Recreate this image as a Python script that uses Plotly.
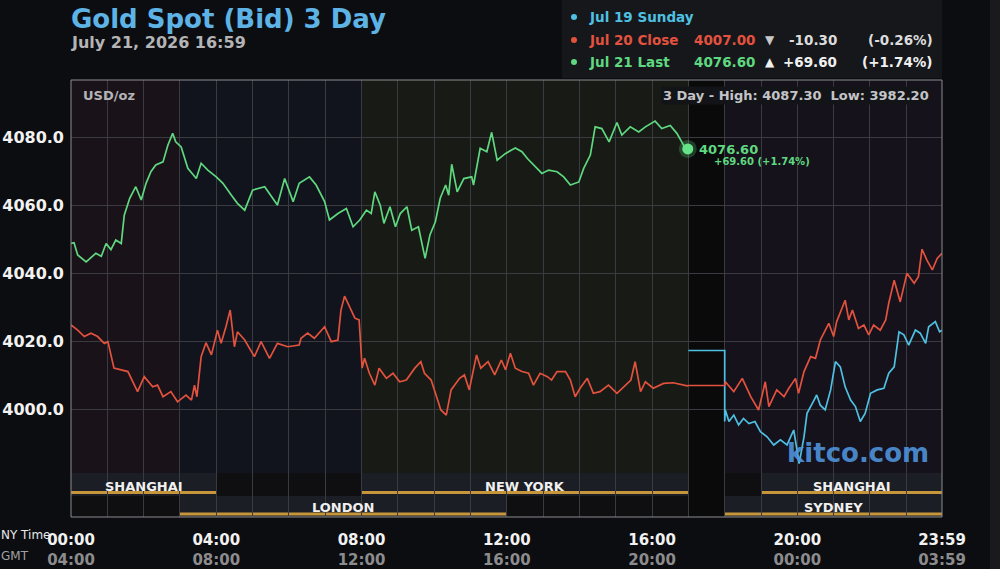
import plotly.graph_objects as go

# ---------------- data ----------------
green_t = ["00:00","00:05","00:11","00:25","00:41","00:50","00:58","01:06","01:14","01:23","01:28","01:37",
           "01:47","01:56","02:04","02:12","02:20","02:32","02:40","02:48","02:53","03:02","03:13","03:27",
           "03:35","03:46","04:00","04:11","04:25","04:35","04:47","05:00","05:20","05:31","05:41","05:53",
           "06:07","06:17","06:34","06:45","06:59","07:07","07:21","07:35","07:46","07:57","08:08","08:16",
           "08:22","08:31","08:37","08:47","08:56","09:04","09:15","09:23","09:34","09:45","09:53","10:02",
           "10:10","10:19","10:24","10:29","10:38","10:49","11:02","11:05","11:16","11:27","11:35","11:44",
           "11:58","12:14","12:25","12:34","12:47","12:58","13:09","13:23","13:34","13:45","13:59","14:07",
           "14:18","14:26","14:37","14:49","15:02","15:10","15:24","15:38","15:49","16:05","16:16","16:30",
           "16:41","16:55","16:59"]
green_v = [4048.8,4049.0,4045.4,4043.4,4045.9,4045.0,4048.8,4047.0,4049.8,4048.8,4057.1,4062.1,
           4065.5,4061.6,4066.5,4069.9,4071.9,4072.8,4077.7,4081.2,4078.7,4077.2,4070.9,4067.9,
           4072.4,4070.4,4068.4,4066.5,4063.0,4060.6,4058.6,4064.5,4065.5,4062.5,4060.1,4067.9,
           4061.1,4066.5,4068.4,4066.0,4061.1,4055.7,4057.6,4059.1,4053.7,4055.7,4058.6,4057.6,
           4064.0,4060.0,4054.7,4059.6,4053.7,4057.6,4059.6,4052.7,4053.7,4044.4,4051.3,4055.2,
           4062.1,4066.0,4063.0,4072.1,4064.0,4067.9,4068.4,4066.0,4076.8,4075.8,4081.5,4073.3,
           4075.3,4076.9,4075.8,4073.8,4071.4,4069.4,4070.4,4069.9,4068.4,4066.0,4066.9,4070.9,
           4074.8,4083.1,4082.6,4078.7,4084.4,4080.7,4083.1,4081.6,4083.1,4084.8,4082.6,4083.5,
           4081.2,4076.8,4076.6]

red_t = ["00:00","00:11","00:22","00:33","00:44","00:55","01:01","01:11","01:23","01:34","01:50","02:01",
         "02:15","02:23","02:32","02:45","02:56","03:10","03:19","03:24","03:28","03:35","03:43","03:52",
         "04:02","04:08","04:16","04:23","04:30","04:35","04:47","05:03","05:14","05:28","05:41","05:58",
         "06:17","06:20","06:31","06:42","06:59","07:10","07:21","07:26","07:32","07:40","07:49","07:56",
         "08:01","08:05","08:13","08:22","08:29","08:41","08:52","09:03","09:14","09:28","09:38","09:44",
         "09:55","10:04","10:11","10:20","10:28","10:42","10:50","10:58","11:10","11:17","11:29","11:40",
         "11:51","11:58","12:06","12:14","12:25","12:36","12:44","12:55","13:07","13:14","13:23","13:37",
         "13:45","13:53","14:01","14:13","14:23","14:34","14:48","15:02","15:19","15:25","15:32","15:41",
         "15:49","16:02","16:19","16:35","16:58","17:00","18:00","18:01","18:15","18:29","18:43","18:56",
         "19:07","19:13","19:26","19:38","19:46","19:57","20:02","20:11","20:22","20:30","20:38","20:52",
         "21:00","21:05","21:19","21:25","21:31","21:41","21:50","21:58","22:06","22:17","22:26","22:31",
         "22:40","22:50","23:01","23:13","23:20","23:26","23:34","23:43","23:51","23:59"]
red_v = [4024.8,4023.3,4021.4,4022.4,4021.4,4019.4,4019.9,4012.1,4011.6,4011.1,4005.2,4009.6,
         4006.6,4007.1,4003.7,4005.2,4002.2,4004.2,4002.7,4007.1,4003.7,4015.5,4019.6,4016.0,
         4023.3,4019.4,4024.3,4029.2,4018.4,4022.8,4020.4,4015.5,4019.9,4015.0,4019.4,4018.4,
         4018.9,4020.9,4022.4,4020.9,4024.3,4019.9,4020.4,4029.2,4033.3,4030.2,4026.8,4026.3,
         4012.1,4015.0,4010.6,4007.1,4012.1,4009.1,4010.6,4008.1,4008.6,4012.1,4014.0,4010.6,
         4008.6,4003.7,3999.8,3998.3,4005.7,4009.1,4010.1,4005.7,4016.0,4012.1,4014.0,4010.1,
         4014.5,4011.6,4016.5,4012.1,4011.1,4010.6,4007.1,4010.6,4009.6,4008.6,4011.1,4011.1,
         4008.6,4003.7,4006.2,4009.1,4004.7,4005.2,4007.1,4004.7,4007.6,4008.6,4014.0,4005.2,
         4008.1,4006.2,4007.6,4007.8,4006.9,4007.0,4007.0,4008.1,4005.2,4009.1,4003.7,3999.8,
         4008.1,4000.8,4005.7,4003.7,4006.2,4009.1,4004.7,4011.1,4015.5,4015.0,4020.4,4025.3,
         4021.4,4025.8,4032.1,4026.3,4029.2,4023.8,4024.8,4021.9,4024.8,4023.3,4026.3,4031.2,
         4038.0,4031.6,4040.0,4037.1,4039.0,4047.1,4043.9,4041.0,4044.4,4045.9]

cyan_t = ["17:00","18:00","18:00","18:01","18:07","18:15","18:23","18:31","18:40","18:50","18:59","19:10",
          "19:21","19:32","19:43","19:54","19:59","20:03","20:11","20:16","20:25","20:32","20:38","20:46",
          "20:55","21:03","21:11","21:19","21:28","21:36","21:44","21:52","22:01","22:12","22:23","22:31",
          "22:40","22:48","22:56","23:04","23:15","23:23","23:32","23:37","23:48","23:55","23:59"]
cyan_v = [4017.3,4017.3,3996.4,3999.8,3996.4,3998.3,3995.4,3997.3,3995.8,3996.4,3993.4,3991.9,
          3989.5,3991.0,3989.5,3993.9,3988.5,3984.0,3991.9,3998.8,4001.8,4004.2,4001.2,3999.8,
          4005.7,4014.0,4012.5,4006.6,4002.7,4000.8,3996.4,3998.8,4004.7,4005.7,4006.2,4010.6,
          4012.5,4022.8,4021.9,4018.9,4023.3,4022.4,4019.4,4024.3,4025.8,4022.8,4023.3]

y_ticks = [4000, 4020, 4040, 4060, 4080]
x_ticks_ny = ["00:00", "04:00", "08:00", "12:00", "16:00", "20:00", "23:59"]
x_ticks_gmt = ["04:00", "08:00", "12:00", "16:00", "20:00", "00:00", "03:59"]

# sessions: name, start hour, end hour, row (0 = upper, 1 = lower)
sessions = [("SHANGHAI", 0, 4, 0), ("NEW YORK", 8, 17, 0), ("SHANGHAI", 19, 24, 0),
            ("LONDON", 3, 12, 1), ("SYDNEY", 18, 24, 1)]
# background tints of the price area: start, end, colour
tints = [(0, 3, "#1a1219"), (3, 8, "#11141c"), (8, 17, "#171a15"), (17, 18, "#0a0a0b"), (18, 24, "#15121b")]

# ---------------- layout helpers ----------------
W, H = 1000, 569
L, R, T, B = 71, 942, 80, 517
XMAX = 23 + 59 / 60
Y0, Y1 = 3968.3, 4096.9


def hrs(s):
    h, m = s.split(":")
    return int(h) + int(m) / 60


def px(x):
    return (x - L) / (R - L)


def py(y):
    return (B - y) / (B - T)


BG = "#0c0d10"
GREEN = "#5fd880"
RED = "#e2523e"
CYAN = "#4fc0e2"
TITLE = "#5eb3e6"
GRID = "#3a3b41"
FONT = "DejaVu Sans"

fig = go.Figure()

fig.add_trace(go.Scatter(x=[hrs(t) for t in cyan_t], y=cyan_v, mode="lines",
                         line=dict(color=CYAN, width=1.7), hoverinfo="skip"))
fig.add_trace(go.Scatter(x=[hrs(t) for t in red_t], y=red_v, mode="lines",
                         line=dict(color=RED, width=1.7), hoverinfo="skip"))
fig.add_trace(go.Scatter(x=[hrs(t) for t in green_t], y=green_v, mode="lines",
                         line=dict(color=GREEN, width=1.7), hoverinfo="skip"))
last_x, last_y = hrs(green_t[-1]), green_v[-1]
fig.add_trace(go.Scatter(x=[last_x], y=[last_y], mode="markers",
                         marker=dict(size=18, color="rgba(95,216,128,0.25)"), hoverinfo="skip"))
fig.add_trace(go.Scatter(x=[last_x], y=[last_y], mode="markers",
                         marker=dict(size=11, color="#66e488"), hoverinfo="skip"))

shapes = []
band_top = py(473)
row_mid = py(496)
# price-area tints
for a, b, c in tints:
    shapes.append(dict(type="rect", xref="x", yref="paper", x0=a, x1=min(b, XMAX), y0=band_top, y1=1,
                       fillcolor=c, line=dict(width=0), layer="below"))
# band rows base
shapes.append(dict(type="rect", xref="paper", yref="paper", x0=0, x1=1, y0=0, y1=band_top,
                   fillcolor="#0f0f12", line=dict(width=0), layer="below"))
shapes.append(dict(type="rect", xref="x", yref="paper", x0=17, x1=18, y0=0, y1=band_top,
                   fillcolor="#0a0a0b", line=dict(width=0), layer="below"))
annotations = []
for name, a, b, row in sessions:
    y0 = row_mid if row == 0 else 0
    y1 = band_top if row == 0 else row_mid
    b = min(b, XMAX)
    shapes.append(dict(type="rect", xref="x", yref="paper", x0=a, x1=b, y0=y0, y1=y1,
                       fillcolor="#1b1e24", line=dict(width=0), layer="between"))
    ly = py(492.5) if row == 0 else py(514)
    shapes.append(dict(type="line", xref="x", yref="paper", x0=a, x1=b, y0=ly, y1=ly,
                       line=dict(color="#c8963a", width=3), layer="between"))
    annotations.append(dict(xref="x", yref="paper", x=(a + b) / 2, y=py(486.5) if row == 0 else py(507.5),
                            text="<b>%s</b>" % name, showarrow=False,
                            font=dict(family=FONT, size=13, color="#f0f0f0"),
                            xanchor="center", yanchor="middle"))
# plot border
shapes.append(dict(type="rect", xref="paper", yref="paper", x0=0, x1=1, y0=0, y1=1,
                   line=dict(color="#8c8c90", width=1), fillcolor="rgba(0,0,0,0)", layer="above"))
# legend box
shapes.append(dict(type="rect", xref="paper", yref="paper", x0=px(562), x1=px(942), y0=py(78), y1=py(-2),
                   fillcolor="#15171b", line=dict(width=0), layer="below"))
# right strip
shapes.append(dict(type="rect", xref="paper", yref="paper", x0=px(990), x1=px(1002), y0=py(571), y1=py(-2),
                   fillcolor="#1a1a1c", line=dict(width=0), layer="below"))

# legend dots
for yy, c in [(17, CYAN), (40, RED), (62, GREEN)]:
    shapes.append(dict(type="circle", xref="paper", yref="paper", x0=px(571), x1=px(577),
                       y0=py(yy + 3), y1=py(yy - 3), fillcolor=c, line=dict(width=0), layer="above"))


def ann(x, y, text, size, color, xanchor="left", bg=None, bold=True):
    d = dict(xref="paper", yref="paper", x=px(x), y=py(y), text=("<b>%s</b>" % text) if bold else text,
             showarrow=False, xanchor=xanchor, yanchor="middle",
             font=dict(family=FONT, size=size, color=color))
    if bg:
        d["bgcolor"] = bg
    annotations.append(d)


ann(69, 19, "Gold Spot (Bid) 3 Day", 26, TITLE)
ann(69, 43, "July 21, 2026 16:59", 16, "#b4b4b6")
ann(587, 17, "Jul 19 Sunday", 13.5, CYAN)
ann(587, 40, "Jul 20 Close", 13.5, RED)
ann(587, 62, "Jul 21 Last", 13.5, GREEN)
ann(692, 40, "4007.00", 13.5, RED)
ann(692, 62, "4076.60", 13.5, GREEN)
ann(763, 40, "▼", 12, "#c8c8c8")
ann(763, 62, "▲", 12, "#f0f0f0")
ann(839, 40, "-10.30", 13.5, "#dcdcdc", xanchor="right")
ann(839, 62, "+69.60", 13.5, "#f0f0f0", xanchor="right")
ann(935, 40, "(-0.26%)", 13.5, "#dcdcdc", xanchor="right")
ann(935, 62, "(+1.74%)", 13.5, "#f0f0f0", xanchor="right")
ann(81, 95, "USD/oz", 13, "#b4b4b8")
ann(931, 95, "3 Day - High: 4087.30  Low: 3982.20", 13, "#c4c4c8", xanchor="right", bg="#131418")
ann(697, 149, "4076.60", 13, GREEN)
ann(712, 162, "+69.60 (+1.74%)", 10, GREEN)
ann(858, 453, "kitco.com", 26, "rgba(80,150,224,0.9)", xanchor="center")
ann(-1, 535, "NY Time", 12, "#e8e8e8", bold=False)
ann(-1, 556, "GMT", 12, "#a0a0a0", bold=False)

fig.update_layout(
    width=W, height=H,
    margin=dict(l=L, r=W - R, t=T, b=H - B, autoexpand=False),
    paper_bgcolor=BG, plot_bgcolor="#0e0e11",
    showlegend=False,
    shapes=shapes, annotations=annotations,
    xaxis=dict(range=[0, XMAX], showgrid=True, gridcolor=GRID, gridwidth=1, automargin=False,
               tickmode="array",
               tickvals=[hrs(t) if t != "23:59" else XMAX for t in x_ticks_ny],
               ticktext=["<b>%s</b><br><span style='color:#8c8c8e'><b>%s</b></span>" % (a, b)
                         for a, b in zip(x_ticks_ny, x_ticks_gmt)],
               tickfont=dict(family=FONT, size=15, color="#f2f2f2"),
               minor=dict(dtick=1, tick0=0, showgrid=True, gridcolor=GRID, gridwidth=1),
               zeroline=False, showline=False, ticks="", ticklabelstandoff=12, fixedrange=True),
    yaxis=dict(range=[Y0, Y1], showgrid=True, gridcolor=GRID, gridwidth=1, automargin=False,
               tickvals=y_ticks, ticktext=["<b>%.1f</b>" % v for v in y_ticks],
               tickfont=dict(family=FONT, size=16, color="#f2f2f2"),
               zeroline=False, showline=False, ticks="", ticklabelstandoff=6, fixedrange=True),
)

fig.write_html("out.html")
